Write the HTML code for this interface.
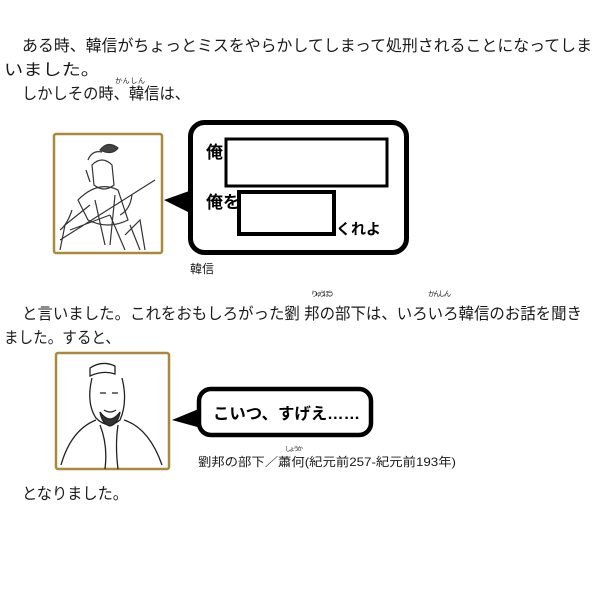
<!DOCTYPE html>
<html><head><meta charset="utf-8"><style>
html,body{margin:0;padding:0;background:#fff;}
svg{display:block;}
text{font-family:"Liberation Sans","Noto Sans CJK JP",sans-serif;fill:#1a1a1a;}
.b{font-weight:bold;fill:#000;}
</style></head><body>
<svg width="600" height="600" viewBox="0 0 600 600" xmlns="http://www.w3.org/2000/svg">
<text x="22" y="51" font-size="16" textLength="570" lengthAdjust="spacingAndGlyphs">ある時、韓信がちょっとミスをやらかしてしまって処刑されることになってしま</text>
<text x="4" y="75" font-size="16" textLength="96" lengthAdjust="spacingAndGlyphs">いました。</text>
<text x="22" y="99" font-size="16" textLength="168" lengthAdjust="spacingAndGlyphs">しかしその時、韓信は、</text>
<text x="115" y="83" font-size="7" textLength="30">かんしん</text>

<!-- portrait 1 -->
<rect x="54" y="134" width="108" height="119" fill="#fff" stroke="#a88a3a" stroke-width="2.5" rx="2"/>
<g fill="none" stroke="#333" stroke-width="1.2">
<path d="M100 150 q8 -10 18 -2 q-6 8 -18 2z" fill="#444"/>
<path d="M92 165 q10 -10 20 0 l2 20 q-10 8 -20 0z"/>
<path d="M88 160 q4 -10 14 -8 M86 170 l4 12"/>
<path d="M78 200 q20 -20 40 -10 l10 30 q-20 10 -40 0z"/>
<path d="M60 240 l95 -60 M70 230 l40 -15 M90 205 l-25 20 l-5 25"/>
<path d="M110 215 l15 35 M130 225 l10 25 M95 200 l10 45 M115 195 l-5 50"/>
<path d="M120 215 q10 -5 12 -20 M72 210 q-5 15 -12 20 M125 235 l15 -15 l5 30"/>
</g>
<!-- bubble 1 -->
<rect x="190.5" y="122.5" width="216" height="130" rx="14" fill="#fff" stroke="#000" stroke-width="5"/>
<polygon points="164,200 192,190 192,214" fill="#000"/>
<rect x="226" y="139" width="161" height="47" fill="#fff" stroke="#000" stroke-width="3"/>
<rect x="239" y="192" width="95" height="42" fill="#fff" stroke="#000" stroke-width="4"/>
<text x="206" y="158" font-size="17" class="b">俺</text>
<text x="206" y="208" font-size="17" class="b">俺を</text>
<text x="336" y="234" font-size="15" class="b">くれよ</text>
<text x="190" y="273" font-size="12">韓信</text>

<text x="311" y="296" font-size="7" textLength="23">りゅうほう</text>
<text x="428" y="296" font-size="7" textLength="23">かんしん</text>
<text x="22" y="319" font-size="16" textLength="560" lengthAdjust="spacingAndGlyphs">と言いました。これをおもしろがった劉 邦の部下は、いろいろ韓信のお話を聞き</text>
<text x="4" y="343" font-size="16" textLength="116" lengthAdjust="spacingAndGlyphs">ました。すると、</text>

<!-- portrait 2 -->
<rect x="56" y="353" width="113" height="116" fill="#fff" stroke="#a88a3a" stroke-width="2.5" rx="2"/>
<g fill="none" stroke="#222" stroke-width="1.3">
<path d="M90 368 q12 -8 25 -2 l0 8 q-12 -4 -25 2z"/>
<path d="M92 378 q-6 25 4 40 q12 12 24 2 q8 -18 2 -42"/>
<path d="M100 393 l6 0 M112 393 l6 0 M104 410 q6 4 12 0"/>
<path d="M100 412 q10 14 20 0 q-2 12 -10 14 q-8 -2 -10 -14z" fill="#333"/>
<path d="M96 420 q-25 10 -35 45 M124 420 q25 8 38 45 M100 425 q8 20 5 44 M118 425 q-3 20 0 44"/>
</g>
<!-- bubble 2 -->
<rect x="199" y="389" width="172" height="46" rx="12" fill="#fff" stroke="#000" stroke-width="4.5"/>
<polygon points="172,420 201,408 201,428" fill="#000"/>
<text x="213" y="419" font-size="16" class="b" textLength="147" lengthAdjust="spacingAndGlyphs">こいつ、すげえ……</text>
<text x="285" y="451" font-size="6" textLength="18">しょうか</text>
<text x="198" y="466" font-size="12" textLength="258" lengthAdjust="spacingAndGlyphs">劉邦の部下／蕭何(紀元前257-紀元前193年)</text>
<text x="22" y="499" font-size="16" textLength="106" lengthAdjust="spacingAndGlyphs">となりました。</text>
</svg>
</body></html>
